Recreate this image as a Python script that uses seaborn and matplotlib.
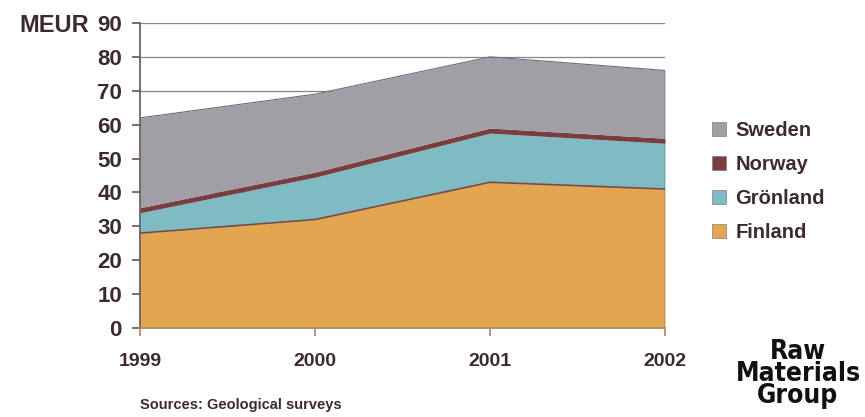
import numpy as np
import pandas as pd
import matplotlib
matplotlib.use("Agg")
import matplotlib.pyplot as plt
from matplotlib.patches import Patch
import seaborn as sns

# Mining-related revenue by country, MEUR
years = [1999, 2000, 2001, 2002]
finland = [28, 32, 43, 41]
gronland = [6, 12.5, 14.5, 13.5]
norway = [1.5, 1.5, 1.5, 1.5]
sweden = [26.5, 23, 21, 20]

countries = ["Finland", "Grönland", "Norway", "Sweden"]
colors = {"Finland": "#E2A650", "Grönland": "#7FBBC3",
          "Norway": "#7B3E40", "Sweden": "#A19EA6"}

sns.set_theme(style="white")
plt.rcParams["font.family"] = ["Liberation Sans", "DejaVu Sans"]
text_col = "#3B2A30"

fig = plt.figure(figsize=(8.65, 4.17), dpi=100)
ax = fig.add_axes([140 / 865, 1 - 328 / 417, 525 / 865, 305 / 417])

series = [finland, gronland, norway, sweden]
ax.stackplot(years, *series, colors=[colors[c] for c in countries],
             linewidth=0, zorder=2)

# thin boundary line along the top of Finland
df = pd.DataFrame({"year": years, "value": finland})
sns.lineplot(data=df, x="year", y="value", ax=ax, color="#7B4A44",
             linewidth=1.2, zorder=3)
top = np.sum(series, axis=0)
ax.plot(years, top, color="#6F6A72", linewidth=0.8, zorder=3)
ax.plot([years[-1], years[-1]], [0, top[-1]], color="#5A4A50", lw=1, zorder=3)

ax.set_xlim(years[0], years[-1])
ax.set_ylim(0, 90)
ax.set_yticks(range(0, 91, 10))
ax.set_xticks(years)
ax.yaxis.grid(True, color="#8A8288", linewidth=0.9, zorder=1)
ax.set_axisbelow(True)
for s in ["top", "right"]:
    ax.spines[s].set_visible(False)
ax.spines["left"].set_color("#6B5A60")
ax.spines["bottom"].set_color("#B08A70")
ax.tick_params(axis="y", direction="out", length=6, color="#6B5A60",
               left=True, pad=7, labelsize=16, labelcolor=text_col)
ax.tick_params(axis="x", direction="out", length=6, color="#B08A70",
               bottom=True, pad=12, labelsize=14, labelcolor=text_col)
for lab in ax.get_xticklabels() + ax.get_yticklabels():
    lab.set_fontweight("bold")
ax.set_xlabel("")
ax.set_ylabel("")

fig.text(19 / 865, 1 - 25 / 417, "MEUR", fontsize=17, fontweight="bold",
         color=text_col, va="center", ha="left")

handles = [Patch(facecolor=colors[c], edgecolor="#8A7A80", linewidth=0.5)
           for c in reversed(countries)]
leg = fig.legend(handles, list(reversed(countries)), loc="upper left",
                 bbox_to_anchor=(694 / 865, 1 - 103 / 417), frameon=False,
                 fontsize=14.5, handlelength=0.7, handleheight=0.7,
                 handletextpad=0.45, labelspacing=0.75)
for t in leg.get_texts():
    t.set_fontweight("bold")
    t.set_color(text_col)

fig.text(140 / 865, 1 - 405 / 417, "Sources: Geological surveys",
         fontsize=10.5, fontweight="bold", color=text_col, va="center")

fig.text(798 / 865, 1 - 374 / 417, "Raw\nMaterials\nGroup", fontsize=19,
         fontweight="heavy", family=["DejaVu Sans"], color="#111111",
         ha="center", va="center", linespacing=0.8, stretch="condensed")

fig.savefig("out.png", dpi=100, facecolor="white")
